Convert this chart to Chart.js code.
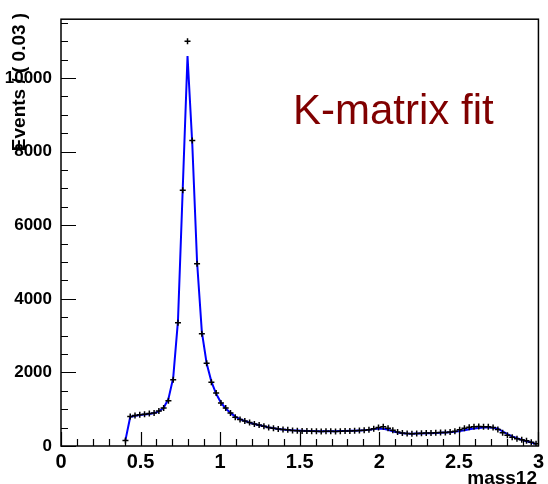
<!DOCTYPE html>
<html>
<head>
<meta charset="utf-8">
<script src="https://cdn.jsdelivr.net/npm/chart.js@4"></script>
<style>
  html, body { margin: 0; padding: 0; background: #fff; }
  #wrap { width: 548px; height: 484px; }
</style>
</head>
<body>
<div id="wrap"><canvas id="kmatrix"></canvas></div>
<script>
// bin centres (bin width 0.03)
const massCenters = [
  0.405, 0.435, 0.465, 0.495, 0.525, 0.555, 0.585, 0.615, 0.645, 0.675,
  0.705, 0.735, 0.765, 0.795, 0.825, 0.855, 0.885, 0.915, 0.945, 0.975,
  1.005, 1.035, 1.065, 1.095, 1.125, 1.155, 1.185, 1.215, 1.245, 1.275,
  1.305, 1.335, 1.365, 1.395, 1.425, 1.455, 1.485, 1.515, 1.545, 1.575,
  1.605, 1.635, 1.665, 1.695, 1.725, 1.755, 1.785, 1.815, 1.845, 1.875,
  1.905, 1.935, 1.965, 1.995, 2.025, 2.055, 2.085, 2.115, 2.145, 2.175,
  2.205, 2.235, 2.265, 2.295, 2.325, 2.355, 2.385, 2.415, 2.445, 2.475,
  2.505, 2.535, 2.565, 2.595, 2.625, 2.655, 2.685, 2.715, 2.745, 2.775,
  2.805, 2.835, 2.865, 2.895, 2.925, 2.955, 2.985
];

// histogram contents
const events = [
  150, 800, 830, 850, 860, 880, 900, 950, 1030, 1230,
  1800, 3350, 6950, 11000, 8300, 4950, 3050, 2250, 1730, 1440,
  1170, 1030, 900, 780, 720, 680, 640, 600, 570, 540,
  500, 480, 465, 450, 440, 420, 415, 410, 405, 400,
  400, 395, 400, 400, 395, 400, 405, 410, 415, 420,
  430, 440, 470, 500, 520, 480, 430, 380, 350, 340,
  335, 340, 345, 350, 355, 360, 365, 370, 380, 400,
  440, 480, 510, 520, 530, 525, 520, 505, 450, 360,
  290, 240, 200, 170, 140, 100, 60
];

// K-matrix fit curve at the same centres
const fitValues = [
  160, 790, 820, 840, 855, 870, 895, 940, 1040, 1280,
  1850, 3400, 7000, 10600, 8200, 5000, 3100, 2250, 1750, 1420,
  1180, 1020, 900, 800, 730, 680, 635, 600, 565, 535,
  505, 485, 465, 450, 435, 425, 418, 412, 408, 405,
  403, 402, 402, 403, 404, 406, 408, 412, 416, 422,
  430, 442, 460, 475, 470, 440, 400, 365, 345, 337,
  335, 337, 340, 344, 348, 353, 358, 364, 372, 385,
  405, 430, 455, 475, 490, 500, 502, 498, 470, 400,
  320, 260, 210, 170, 130, 95, 55
];

const xTickLabels = ['0', '0.5', '1', '1.5', '2', '2.5', '3'];
const yTickLabels = ['0', '2000', '4000', '6000', '8000', '10000'];

const labelFont = 'Liberation Sans, Arial, sans-serif';

// frame, inward ROOT-style ticks and the free text
const rootFrame = {
  id: 'rootFrame',
  afterDraw(chart) {
    const ctx = chart.ctx;
    const a = chart.chartArea;
    const xs = chart.scales.x;
    const ys = chart.scales.y;
    ctx.save();
    ctx.strokeStyle = '#000';
    ctx.lineWidth = 1.5;
    ctx.strokeRect(a.left, a.top, a.right - a.left, a.bottom - a.top);

    ctx.lineWidth = 1.2;
    ctx.beginPath();
    for (let i = 0; i <= 30; i++) {
      const px = Math.round(xs.getPixelForValue(i / 10)) + 0.5;
      const len = i % 5 === 0 ? 14 : 7;
      ctx.moveTo(px, a.bottom);
      ctx.lineTo(px, a.bottom - len);
    }
    for (let v = 0; v <= ys.max; v += 500) {
      const py = Math.round(ys.getPixelForValue(v)) + 0.5;
      const len = v % 2000 === 0 ? 15 : 7;
      ctx.moveTo(a.left, py);
      ctx.lineTo(a.left + len, py);
    }
    ctx.stroke();

    ctx.fillStyle = '#000';
    ctx.font = 'bold 19px ' + labelFont;
    ctx.save();
    ctx.translate(25, 82);
    ctx.rotate(-Math.PI / 2);
    ctx.textAlign = 'center';
    ctx.textBaseline = 'alphabetic';
    ctx.fillText('Events / ( 0.03 )', 0, 0);
    ctx.restore();

    ctx.font = 'bold 19px ' + labelFont;
    ctx.textAlign = 'right';
    ctx.textBaseline = 'alphabetic';
    ctx.fillText('mass12', 537, 484);

    ctx.fillStyle = '#800000';
    ctx.font = '42px ' + labelFont;
    ctx.textAlign = 'left';
    ctx.fillText('K-matrix fit', 293, 124);
    ctx.restore();
  }
};

new Chart(document.getElementById('kmatrix'), {
  type: 'scatter',
  data: {
    datasets: [
      {
        label: 'data',
        data: massCenters.map((m, i) => ({ x: m, y: events[i] })),
        showLine: false,
        pointStyle: 'cross',
        pointRadius: 3,
        borderColor: '#000',
        borderWidth: 1.5
      },
      {
        label: 'fit',
        data: massCenters.map((m, i) => ({ x: m, y: fitValues[i] })),
        showLine: true,
        pointRadius: 0,
        borderColor: '#0000ff',
        borderWidth: 2,
        tension: 0
      }
    ]
  },
  options: {
    responsive: true,
    maintainAspectRatio: false,
    animation: false,
    layout: { padding: { left: 0, right: 8, top: 19, bottom: 0 } },
    plugins: {
      legend: { display: false },
      tooltip: { enabled: false }
    },
    scales: {
      x: {
        type: 'linear',
        min: 0,
        max: 3,
        afterFit: s => { s.height = 38; },
        afterBuildTicks: s => { s.ticks = xTickLabels.map(t => ({ value: Number(t) })); },
        grid: { display: false, drawTicks: false },
        border: { display: false },
        ticks: {
          autoSkip: false,
          maxRotation: 0,
          padding: 4,
          color: '#000',
          font: { family: labelFont, size: 20, weight: 'bold' },
          callback: (v, i) => xTickLabels[i]
        }
      },
      y: {
        min: 0,
        max: 11600,
        afterFit: s => { s.width = 61; },
        afterBuildTicks: s => { s.ticks = yTickLabels.map(t => ({ value: Number(t) })); },
        grid: { display: false, drawTicks: false },
        border: { display: false },
        ticks: {
          autoSkip: false,
          padding: 9,
          color: '#000',
          font: { family: labelFont, size: 17, weight: 'bold' },
          callback: (v, i) => yTickLabels[i]
        }
      }
    }
  },
  plugins: [rootFrame]
});
</script>
</body>
</html>
